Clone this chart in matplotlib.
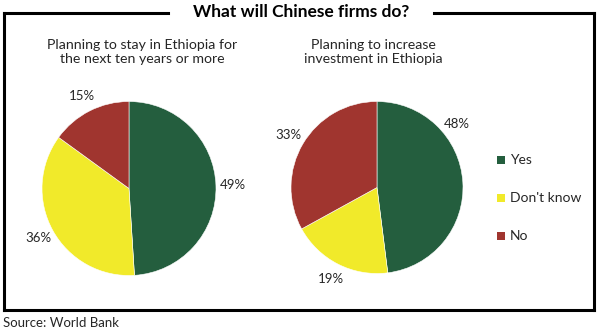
import matplotlib.pyplot as plt
from matplotlib.lines import Line2D
from matplotlib.patches import Rectangle

plt.rcParams['font.family'] = ['Lato', 'DejaVu Sans']

# Data
categories = ["Yes", "Don't know", "No"]
stay_values = [49, 36, 15]
invest_values = [48, 19, 33]
titles = ["Planning to stay in Ethiopia for\nthe next ten years or more",
          "Planning to increase\ninvestment in Ethiopia"]
colors = ["#245e3e", "#f1ea2a", "#a0352f"]
text_color = "#262626"

W, H = 598, 335
fig = plt.figure(figsize=(W / 100, H / 100), dpi=100)


def px_axes(cx, cy, r):
    # axes square around a pie centre given in pixels from top-left
    return fig.add_axes([(cx - r) / W, (H - cy - r) / H, 2 * r / W, 2 * r / H])


def draw_pie(ax, values):
    wedges, texts, autotexts = ax.pie(
        values, colors=colors, startangle=90, counterclock=False,
        autopct=lambda p: f"{p:.0f}%", pctdistance=1.19,
        wedgeprops=dict(edgecolor="white", linewidth=0.4),
        textprops=dict(fontsize=9.5, color=text_color))
    ax.set_xlim(-1, 1)
    ax.set_ylim(-1, 1)
    ax.set_aspect("equal")
    return autotexts


ax1 = px_axes(129, 188.5, 87)
draw_pie(ax1, stay_values)
ax2 = px_axes(377, 187.5, 86)
t2 = draw_pie(ax2, invest_values)
# move the "Yes" label of the second pie up like the original
t2[0].set_position((0.93, 0.74))

# Pie titles
fig.text(142 / W, 1 - 52 / H, titles[0], ha="center", va="center",
         fontsize=10.2, color=text_color, linespacing=1.25)
fig.text(373 / W, 1 - 52 / H, titles[1], ha="center", va="center",
         fontsize=10.2, color=text_color, linespacing=1.25)

# Legend
for i, (cat, col) in enumerate(zip(categories, colors)):
    y = 1 - (160 + 38 * i) / H
    fig.patches.append(Rectangle((497 / W, y - 4 / H), 8 / W, 8 / H,
                                 facecolor=col, edgecolor="none",
                                 transform=fig.transFigure))
    fig.text(510 / W, y, cat, ha="left", va="center", fontsize=10,
             color=text_color)

# Frame with gap for the title
lw = 2.2
top = 1 - 13 / H
bottom = 1 - 310 / H
left = 4 / W
right = 594 / W
frame = [([left, 168 / W], [top, top]),
         ([434 / W, right], [top, top]),
         ([left, left], [top, bottom]),
         ([right, right], [top, bottom]),
         ([left, right], [bottom, bottom])]
for xs, ys in frame:
    fig.lines.append(Line2D(xs, ys, color="black", linewidth=lw,
                            solid_capstyle="projecting",
                            transform=fig.transFigure))

fig.text(301 / W, 1 - 12 / H, "What will Chinese firms do?", ha="center",
         va="center", fontsize=12.5, fontweight="bold", color="black")

fig.text(3 / W, 1 - 323 / H, "Source: World Bank", ha="left", va="center",
         fontsize=9.5, color=text_color)

fig.savefig("out.png", dpi=100, facecolor="white")
